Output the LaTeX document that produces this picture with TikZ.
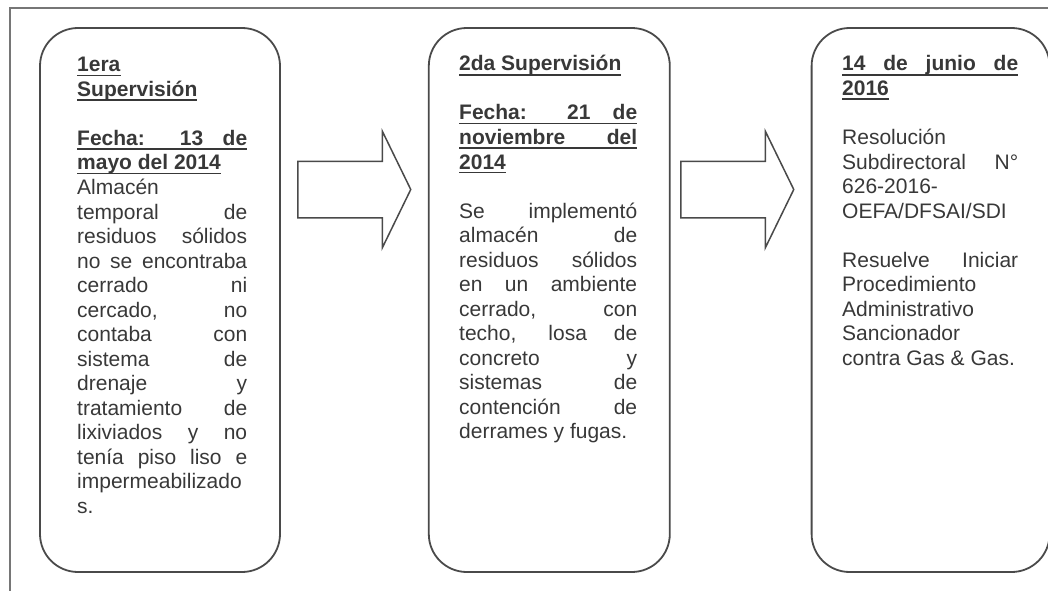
\documentclass[tikz,border=0pt]{standalone}
\usepackage{fontspec}
\setmainfont{Liberation Sans}
\usepackage{xcolor}
\usepackage{tikz}
\usetikzlibrary{positioning,shapes.arrows}

\definecolor{tinta}{HTML}{383838}
\definecolor{borde}{HTML}{4A4A4A}
\definecolor{marco}{HTML}{767676}

\newcommand{\ulbox}[1]{\setbox0\hbox{#1}\rlap{\rule[-4.5pt]{\wd0}{1.8pt}}\box0}
\newcommand{\ull}[1]{\ulbox{\textbf{#1}}}
\newcommand{\ulj}[1]{\ulbox{\makebox[\linewidth][s]{\textbf{#1}}}}

\tikzset{
  caja/.style={draw=borde, line width=1.8pt, rounded corners=38pt,
    minimum height=544pt, inner sep=0pt},
  texto/.style={anchor=base west, inner sep=0pt, align=justify, text=tinta,
    font=\fontsize{21}{24.5}\selectfont},
  flecha/.style={single arrow, draw=borde, line width=1.5pt, inner xsep=0pt,
    inner ysep=27.5pt, minimum height=113pt, single arrow head extend=30pt,
    single arrow tip angle=128, anchor=tail}
}

\begin{document}
\begin{tikzpicture}[x=1pt, y=-1pt]
\useasboundingbox (0,0) rectangle (1048,591);
\draw[marco, line width=1.5pt] (1048,8) -- (10,8) -- (10,591);

\node[caja, minimum width=240pt] (sup1) at (160,300) {};
\node[caja, minimum width=241pt, right=147pt of sup1] (sup2) {};
\node[caja, minimum width=238pt, right=140pt of sup2] (res) {};

\node[flecha] (f1) at (297,189.5) {};
\node[flecha] (f2) at (680,189.5) {};

\node[texto, text width=170pt] (t1) at (77,72) {%
\ull{1era}\\
\ull{Supervisión}\\[24.5pt]
\ulj{Fecha: 13 de}\\
\ull{mayo del 2014}\\
Almacén\linebreak temporal de\linebreak residuos sólidos\linebreak
no se encontraba\linebreak cerrado ni\linebreak cercado, no\linebreak
contaba con\linebreak sistema de\linebreak drenaje y\linebreak
tratamiento de\linebreak lixiviados y no\linebreak tenía piso liso e\linebreak
impermeabilizado\linebreak s.};

\node[texto, text width=178pt] (t2) at (459,71) {%
\ull{2da Supervisión}\\[24.5pt]
\ulj{Fecha: 21 de}\\
\ulj{noviembre del}\\
\ull{2014}\\[24.5pt]
Se implementó\linebreak almacén de\linebreak residuos sólidos\linebreak
en un ambiente\linebreak cerrado, con\linebreak techo, losa de\linebreak
concreto y\linebreak sistemas de\linebreak contención de\linebreak
derrames y fugas.};

\node[texto, text width=176pt] (t3) at (842,71) {%
\ulj{14 de junio de}\\
\ull{2016}\\[24.5pt]
Resolución\linebreak Subdirectoral N°\linebreak 626-2016-\linebreak
OEFA/DFSAI/SDI\\[24.5pt]
Resuelve Iniciar\linebreak Procedimiento\linebreak Administrativo\linebreak
Sancionador\linebreak contra Gas \& Gas.};
\end{tikzpicture}
\end{document}
